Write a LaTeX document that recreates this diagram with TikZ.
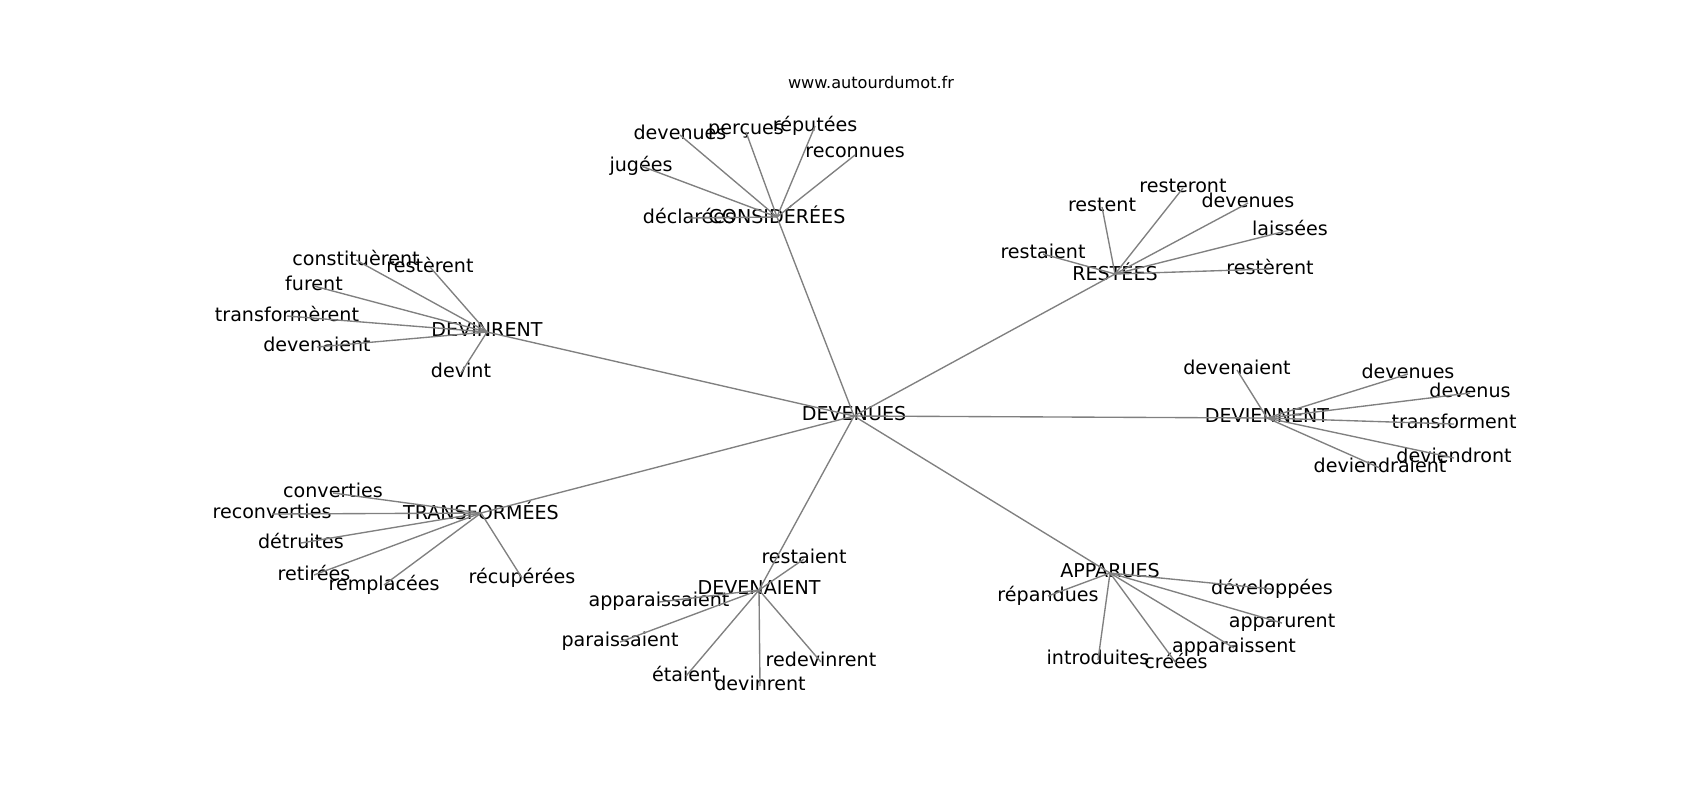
\documentclass[tikz,border=0pt]{standalone}
\usepackage{fontspec}
\setmainfont{DejaVu Sans}
\usepackage{tikz}
\usetikzlibrary{positioning}
\tikzstyle{word} = [inner sep=0pt, outer sep=0pt, text depth=0.24em, yshift=-1pt, font={\fontsize{9.55pt}{11pt}\selectfont}]
\tikzstyle{hub} = [word]
\tikzstyle{link} = [line width=0.68pt, draw=black!50]
\tikzstyle{site} = [inner sep=0pt, font={\fontsize{8.07pt}{10pt}\selectfont}]

\begin{document}
\begin{tikzpicture}[x=0.5pt, y=-0.5pt]
    \useasboundingbox (0,0) rectangle (1700,800);

    \node (site) [site] at (871,82) {www.autourdumot.fr};

    % centre and hubs
    \node (devenues) [hub] at (854,414) {DEVENUES};
    \node (considerees) [hub] at (777,215) {CONSIDÉRÉES};
    \node (devinrent) [hub] at (487,330) {DEVINRENT};
    \node (restees) [hub] at (1115,272) {RESTÉES};
    \node (deviennent) [hub] at (1267,416) {DEVIENNENT};
    \node (transformees) [hub] at (481,511) {TRANSFORMÉES};
    \node (devenaient) [hub] at (759,588) {DEVENAIENT};
    \node (apparues) [hub] at (1110,571) {APPARUES};

    % around CONSIDÉRÉES
    \node (cdevenues) [word] at (680,133) {devenues};
    \node (cpercues) [word] at (746,130) {perçues};
    \node (creputees) [word] at (815,124) {réputées};
    \node (creconnues) [word] at (855,153) {reconnues};
    \node (cjugees) [word] at (641,164) {jugées};
    \node (cdeclarees) [word] at (689,216) {déclarées};

    % around DEVINRENT
    \node (iconstituerent) [word] at (356,258) {constituèrent};
    \node (iresterent) [word] at (430,265) {restèrent};
    \node (ifurent) [word] at (314,284) {furent};
    \node (itransformerent) [word] at (287,314) {transformèrent};
    \node (idevenaient) [word] at (317,345) {devenaient};
    \node (idevint) [word] at (461,371) {devint};

    % around RESTÉES
    \node (rrestent) [word] at (1102,205) {restent};
    \node (rresteront) [word] at (1183,186) {resteront};
    \node (rdevenues) [word] at (1248,201) {devenues};
    \node (rlaissees) [word] at (1290,228) {laissées};
    \node (rrestaient) [word] at (1043,252) {restaient};
    \node (rresterent) [word] at (1270,267) {restèrent};

    % around DEVIENNENT
    \node (ddevenaient) [word] at (1237,368) {devenaient};
    \node (ddevenues) [word] at (1408,372) {devenues};
    \node (ddevenus) [word] at (1470,391) {devenus};
    \node (dtransforment) [word] at (1454,422) {transforment};
    \node (ddeviendront) [word] at (1454,456) {deviendront};
    \node (ddeviendraient) [word] at (1380,466) {deviendraient};

    % around TRANSFORMÉES
    \node (tconverties) [word] at (333,491) {converties};
    \node (treconverties) [word] at (272,512) {reconverties};
    \node (tdetruites) [word] at (301,541) {détruites};
    \node (tretirees) [word] at (314,573) {retirées};
    \node (tremplacees) [word] at (384,583) {remplacées};
    \node (trecuperees) [word] at (522,576) {récupérées};

    % around DEVENAIENT
    \node (erestaient) [word] at (804,557) {restaient};
    \node (eapparaissaient) [word] at (659,600) {apparaissaient};
    \node (eparaissaient) [word] at (620,640) {paraissaient};
    \node (eetaient) [word] at (686,674) {étaient};
    \node (edevinrent) [word] at (760,684) {devinrent};
    \node (eredevinrent) [word] at (821,660) {redevinrent};

    % around APPARUES
    \node (arepandues) [word] at (1048,594) {répandues};
    \node (adeveloppees) [word] at (1272,587) {développées};
    \node (aapparurent) [word] at (1282,621) {apparurent};
    \node (aapparaissent) [word] at (1234,646) {apparaissent};
    \node (aintroduites) [word] at (1098,658) {introduites};
    \node (acreees) [word] at (1176,661) {créées};

    \draw [link] (devenues.center) -- (considerees.center);
    \draw [link] (devenues.center) -- (devinrent.center);
    \draw [link] (devenues.center) -- (restees.center);
    \draw [link] (devenues.center) -- (deviennent.center);
    \draw [link] (devenues.center) -- (transformees.center);
    \draw [link] (devenues.center) -- (devenaient.center);
    \draw [link] (devenues.center) -- (apparues.center);

    \draw [link] (considerees.center) -- (cdevenues.center);
    \draw [link] (considerees.center) -- (cpercues.center);
    \draw [link] (considerees.center) -- (creputees.center);
    \draw [link] (considerees.center) -- (creconnues.center);
    \draw [link] (considerees.center) -- (cjugees.center);
    \draw [link] (considerees.center) -- (cdeclarees.center);

    \draw [link] (devinrent.center) -- (iconstituerent.center);
    \draw [link] (devinrent.center) -- (iresterent.center);
    \draw [link] (devinrent.center) -- (ifurent.center);
    \draw [link] (devinrent.center) -- (itransformerent.center);
    \draw [link] (devinrent.center) -- (idevenaient.center);
    \draw [link] (devinrent.center) -- (idevint.center);

    \draw [link] (restees.center) -- (rrestent.center);
    \draw [link] (restees.center) -- (rresteront.center);
    \draw [link] (restees.center) -- (rdevenues.center);
    \draw [link] (restees.center) -- (rlaissees.center);
    \draw [link] (restees.center) -- (rrestaient.center);
    \draw [link] (restees.center) -- (rresterent.center);

    \draw [link] (deviennent.center) -- (ddevenaient.center);
    \draw [link] (deviennent.center) -- (ddevenues.center);
    \draw [link] (deviennent.center) -- (ddevenus.center);
    \draw [link] (deviennent.center) -- (dtransforment.center);
    \draw [link] (deviennent.center) -- (ddeviendront.center);
    \draw [link] (deviennent.center) -- (ddeviendraient.center);

    \draw [link] (transformees.center) -- (tconverties.center);
    \draw [link] (transformees.center) -- (treconverties.center);
    \draw [link] (transformees.center) -- (tdetruites.center);
    \draw [link] (transformees.center) -- (tretirees.center);
    \draw [link] (transformees.center) -- (tremplacees.center);
    \draw [link] (transformees.center) -- (trecuperees.center);

    \draw [link] (devenaient.center) -- (erestaient.center);
    \draw [link] (devenaient.center) -- (eapparaissaient.center);
    \draw [link] (devenaient.center) -- (eparaissaient.center);
    \draw [link] (devenaient.center) -- (eetaient.center);
    \draw [link] (devenaient.center) -- (edevinrent.center);
    \draw [link] (devenaient.center) -- (eredevinrent.center);

    \draw [link] (apparues.center) -- (arepandues.center);
    \draw [link] (apparues.center) -- (adeveloppees.center);
    \draw [link] (apparues.center) -- (aapparurent.center);
    \draw [link] (apparues.center) -- (aapparaissent.center);
    \draw [link] (apparues.center) -- (aintroduites.center);
    \draw [link] (apparues.center) -- (acreees.center);
\end{tikzpicture}
\end{document}
